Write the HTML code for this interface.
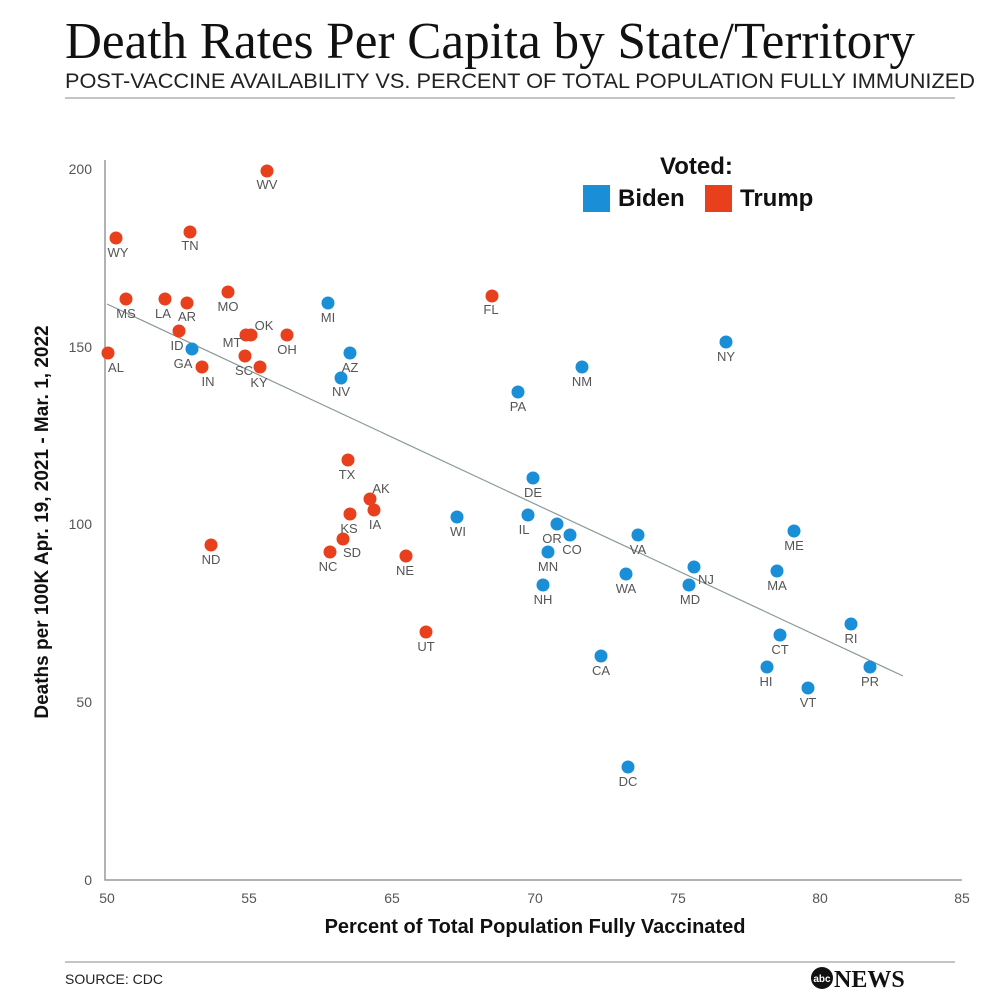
<!DOCTYPE html>
<html><head><meta charset="utf-8"><style>
body{margin:0;background:#fff;}
svg{display:block;}
circle{r:6.5px;}
</style></head><body>
<svg width="992" height="992" viewBox="0 0 992 992" xmlns="http://www.w3.org/2000/svg" font-family="Liberation Sans, sans-serif">
<text x="65" y="58" font-family="Liberation Serif, serif" font-size="52" fill="#111" textLength="850" lengthAdjust="spacingAndGlyphs">Death Rates Per Capita by State/Territory</text>
<text x="65" y="88" font-size="21" fill="#222" textLength="910" lengthAdjust="spacingAndGlyphs">POST-VACCINE AVAILABILITY VS. PERCENT OF TOTAL POPULATION FULLY IMMUNIZED</text>
<line x1="65" y1="98" x2="955" y2="98" stroke="#888" stroke-width="1"/>
<line x1="65" y1="962" x2="955" y2="962" stroke="#888" stroke-width="1"/>
<text x="65" y="984" font-size="14" fill="#222">SOURCE: CDC</text>
<circle cx="822" cy="978" r="11" style="r:11px" fill="#111"/><text x="822" y="982" font-size="10" fill="#fff" text-anchor="middle" font-weight="bold">abc</text>
<text x="834" y="987" font-family="Liberation Serif, serif" font-size="24" font-weight="bold" fill="#111">NEWS</text>
<g font-size="14" fill="#555" text-anchor="end">
<text x="92" y="174">200</text><text x="92" y="352">150</text><text x="92" y="529">100</text><text x="92" y="707">50</text><text x="92" y="885">0</text>
</g>
<g font-size="14" fill="#555" text-anchor="middle">
<text x="107" y="903">50</text><text x="249" y="903">55</text><text x="392" y="903">65</text><text x="535" y="903">70</text><text x="678" y="903">75</text><text x="820" y="903">80</text><text x="962" y="903">85</text>
</g>
<polyline points="105,160 105,880 962,880" fill="none" stroke="#999" stroke-width="1.5"/>
<line x1="107" y1="304" x2="903" y2="676" stroke="#8a9a9a" stroke-width="1.2"/>
<text x="535" y="933" font-size="20" font-weight="bold" fill="#111" text-anchor="middle">Percent of Total Population Fully Vaccinated</text>
<text transform="translate(48,522) rotate(-90)" font-size="19" font-weight="bold" fill="#111" text-anchor="middle">Deaths per 100K Apr. 19, 2021 - Mar. 1, 2022</text>
<text x="660" y="174" font-size="24" font-weight="bold" fill="#111">Voted:</text>
<rect x="583" y="185" width="27" height="27" fill="#1a8fd8"/><text x="618" y="206" font-size="24" font-weight="bold" fill="#111">Biden</text>
<rect x="705" y="185" width="27" height="27" fill="#e8401c"/><text x="740" y="206" font-size="24" font-weight="bold" fill="#111">Trump</text>
<g fill="#e8401c">
<circle cx="267" cy="171" r="6.5"/><circle cx="116" cy="238" r="6.5"/><circle cx="190" cy="232" r="6.5"/><circle cx="126" cy="299" r="6.5"/><circle cx="165" cy="299" r="6.5"/><circle cx="187" cy="303" r="6.5"/><circle cx="228" cy="292" r="6.5"/><circle cx="179" cy="331" r="6.5"/><circle cx="246" cy="335" r="6.5"/><circle cx="251" cy="335" r="6.5"/><circle cx="287" cy="335" r="6.5"/><circle cx="108" cy="353" r="6.5"/><circle cx="245" cy="356" r="6.5"/><circle cx="260" cy="367" r="6.5"/><circle cx="202" cy="367" r="6.5"/><circle cx="348" cy="460" r="6.5"/><circle cx="370" cy="499" r="6.5"/><circle cx="350" cy="514" r="6.5"/><circle cx="374" cy="510" r="6.5"/><circle cx="343" cy="539" r="6.5"/><circle cx="330" cy="552" r="6.5"/><circle cx="211" cy="545" r="6.5"/><circle cx="406" cy="556" r="6.5"/><circle cx="426" cy="632" r="6.5"/><circle cx="492" cy="296" r="6.5"/>
</g>
<g fill="#1a8fd8">
<circle cx="328" cy="303" r="6.5"/><circle cx="192" cy="349" r="6.5"/><circle cx="350" cy="353" r="6.5"/><circle cx="341" cy="378" r="6.5"/><circle cx="582" cy="367" r="6.5"/><circle cx="518" cy="392" r="6.5"/><circle cx="726" cy="342" r="6.5"/><circle cx="533" cy="478" r="6.5"/><circle cx="457" cy="517" r="6.5"/><circle cx="528" cy="515" r="6.5"/><circle cx="557" cy="524" r="6.5"/><circle cx="570" cy="535" r="6.5"/><circle cx="548" cy="552" r="6.5"/><circle cx="543" cy="585" r="6.5"/><circle cx="638" cy="535" r="6.5"/><circle cx="626" cy="574" r="6.5"/><circle cx="694" cy="567" r="6.5"/><circle cx="689" cy="585" r="6.5"/><circle cx="777" cy="571" r="6.5"/><circle cx="794" cy="531" r="6.5"/><circle cx="851" cy="624" r="6.5"/><circle cx="780" cy="635" r="6.5"/><circle cx="601" cy="656" r="6.5"/><circle cx="767" cy="667" r="6.5"/><circle cx="808" cy="688" r="6.5"/><circle cx="870" cy="667" r="6.5"/><circle cx="628" cy="767" r="6.5"/>
</g>
<g font-size="13" fill="#555" text-anchor="middle">
<text x="267" y="189">WV</text><text x="118" y="257">WY</text><text x="190" y="250">TN</text><text x="126" y="318">MS</text><text x="163" y="318">LA</text><text x="187" y="321">AR</text><text x="228" y="311">MO</text><text x="177" y="350">ID</text><text x="232" y="347">MT</text><text x="264" y="330">OK</text><text x="287" y="354">OH</text><text x="116" y="372">AL</text><text x="244" y="375">SC</text><text x="259" y="387">KY</text><text x="208" y="386">IN</text><text x="347" y="479">TX</text><text x="381" y="493">AK</text><text x="349" y="533">KS</text><text x="375" y="529">IA</text><text x="352" y="557">SD</text><text x="328" y="571">NC</text><text x="211" y="564">ND</text><text x="405" y="575">NE</text><text x="426" y="651">UT</text><text x="491" y="314">FL</text>
<text x="328" y="322">MI</text><text x="183" y="368">GA</text><text x="350" y="372">AZ</text><text x="341" y="396">NV</text><text x="582" y="386">NM</text><text x="518" y="411">PA</text><text x="726" y="361">NY</text><text x="533" y="497">DE</text><text x="458" y="536">WI</text><text x="524" y="534">IL</text><text x="552" y="543">OR</text><text x="572" y="554">CO</text><text x="548" y="571">MN</text><text x="543" y="604">NH</text><text x="638" y="554">VA</text><text x="626" y="593">WA</text><text x="706" y="584">NJ</text><text x="690" y="604">MD</text><text x="777" y="590">MA</text><text x="794" y="550">ME</text><text x="851" y="643">RI</text><text x="780" y="654">CT</text><text x="601" y="675">CA</text><text x="766" y="686">HI</text><text x="808" y="707">VT</text><text x="870" y="686">PR</text><text x="628" y="786">DC</text>
</g>
</svg>
</body></html>
